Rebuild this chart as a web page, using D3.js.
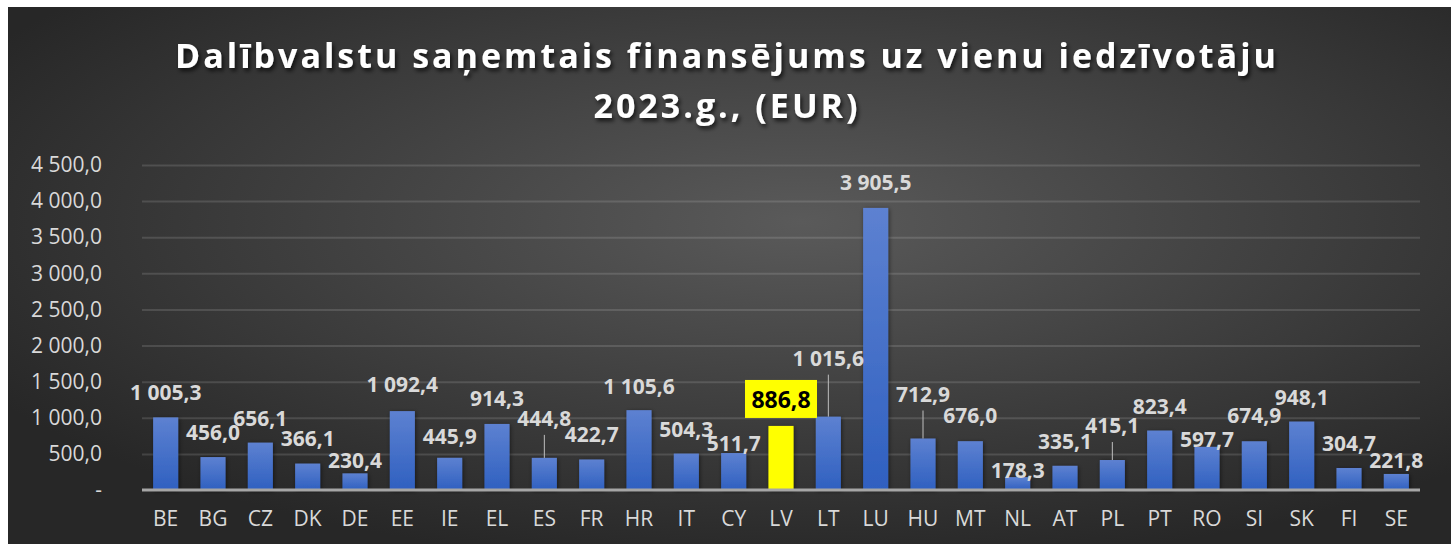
<!DOCTYPE html>
<html>
<head>
<meta charset="utf-8">
<script src="https://cdn.jsdelivr.net/npm/d3@7"></script>
<style>
  body { margin: 0; background: #fff; }
  svg { display: block; }
</style>
</head>
<body>
<svg id="canvas" width="1451" height="544"></svg>
<script>
// countries and values
let countries = ['BE','BG','CZ','DK','DE','EE','IE','EL','ES','FR','HR','IT','CY','LV','LT','LU','HU','MT','NL','AT','PL','PT','RO','SI','SK','FI','SE'];
let values = [1005.3,456.0,656.1,366.1,230.4,1092.4,445.9,914.3,444.8,422.7,1105.6,504.3,511.7,886.8,1015.6,3905.5,712.9,676.0,178.3,335.1,415.1,823.4,597.7,674.9,948.1,304.7,221.8];
let yTicks = [0,500,1000,1500,2000,2500,3000,3500,4000,4500];
let titleLines = ['Dalībvalstu saņemtais finansējums uz vienu iedzīvotāju', '2023.g., (EUR)'];
let highlight = 'LV';

// how far (px) each label sits above its bar, some were dragged by hand in the original
let labelLift = [25,25,25,26,13,27,22,26,40,25,24,25,10,0,59,26,45,26,7,25,35,25,8,26,25,25,14];

let W = 1451, H = 544;
let margin = {left: 142, right: 31, top: 165, bottom: 54};

let canvas = d3.select('#canvas');
let defs = canvas.append('defs');

// background gradient, lighter in the middle
let bg = defs.append('radialGradient')
    .attr('id', 'bg')
    .attr('cx', '55%').attr('cy', '40%').attr('r', '65%');
bg.append('stop').attr('offset', '0%').attr('stop-color', '#5a5a5a');
bg.append('stop').attr('offset', '100%').attr('stop-color', '#272727');

let barGrad = defs.append('linearGradient')
    .attr('id', 'barGrad')
    .attr('x1', 0).attr('y1', 0).attr('x2', 0).attr('y2', 1);
barGrad.append('stop').attr('offset', '0%').attr('stop-color', '#5d81d1');
barGrad.append('stop').attr('offset', '100%').attr('stop-color', '#2f60c0');

let shadow = defs.append('filter').attr('id', 'shadow')
    .attr('x', '-10%').attr('y', '-10%').attr('width', '130%').attr('height', '140%');
shadow.append('feDropShadow')
    .attr('dx', 2).attr('dy', 3).attr('stdDeviation', 2)
    .attr('flood-color', '#000').attr('flood-opacity', 0.7);

let barShadow = defs.append('filter').attr('id', 'barShadow')
    .attr('x', '-30%').attr('y', '-10%').attr('width', '160%').attr('height', '120%');
barShadow.append('feDropShadow')
    .attr('dx', 1).attr('dy', 1).attr('stdDeviation', 2)
    .attr('flood-color', '#000').attr('flood-opacity', 0.5);

canvas.append('rect')
    .attr('x', 8).attr('y', 7)
    .attr('width', W - 8).attr('height', H - 7)
    .attr('fill', 'url(#bg)');

// scales
let x = d3.scaleBand()
    .domain(countries)
    .range([margin.left, W - margin.right])
    .paddingInner(0.47)
    .paddingOuter(0.235);

let y = d3.scaleLinear()
    .domain([0, 4500])
    .range([H - margin.bottom, margin.top]);

let fmt = v => v === 0 ? '-' : d3.format(',.1f')(v).replace(/,/g, ' ').replace('.', ',');

// gridlines + y labels
let yAxis = d3.axisLeft(y)
    .tickValues(yTicks)
    .tickSize(-(W - margin.left - margin.right))
    .tickPadding(40)
    .tickFormat(fmt);

let yg = canvas.append('g')
    .attr('transform', `translate(${margin.left},0)`)
    .call(yAxis);
yg.select('.domain').remove();
yg.selectAll('.tick line')
    .attr('stroke', '#ffffff')
    .attr('stroke-opacity', d => d === 0 ? 0 : 0.13)
    .attr('stroke-width', 2);
yg.selectAll('.tick text')
    .attr('fill', '#d9d9d9')
    .style('font', '21px "Open Sans"');

// bars
canvas.selectAll('rect.bar')
    .data(countries)
    .enter()
    .append('rect')
    .attr('class', 'bar')
    .attr('x', d => x(d))
    .attr('width', x.bandwidth())
    .attr('y', (d, i) => y(values[i]))
    .attr('height', (d, i) => y(0) - y(values[i]))
    .attr('fill', d => d === highlight ? '#ffff00' : 'url(#barGrad)')
    .attr('filter', 'url(#barShadow)');

// baseline
canvas.append('line')
    .attr('x1', margin.left).attr('x2', W - margin.right)
    .attr('y1', y(0)).attr('y2', y(0))
    .attr('stroke', '#a6a6a6')
    .attr('stroke-width', 3);

// x labels
let xAxis = d3.axisBottom(x).tickSize(0).tickPadding(21);
let xg = canvas.append('g')
    .attr('transform', `translate(0,${y(0)})`)
    .call(xAxis);
xg.select('.domain').remove();
xg.selectAll('.tick text')
    .attr('fill', '#d9d9d9')
    .style('font', '21px "Open Sans"');

// leader lines where the label got pulled away from the bar
let leaders = countries.map((c, i) => ({c, i})).filter(d => labelLift[d.i] > 30 && d.c !== highlight);
canvas.selectAll('line.leader')
    .data(leaders)
    .enter()
    .append('line')
    .attr('class', 'leader')
    .attr('x1', d => x(d.c) + x.bandwidth() / 2)
    .attr('x2', d => x(d.c) + x.bandwidth() / 2)
    .attr('y1', d => y(values[d.i]) - labelLift[d.i] + 17)
    .attr('y2', d => y(values[d.i]))
    .attr('stroke', '#bfbfbf')
    .attr('stroke-width', 1);

// data labels
canvas.selectAll('text.value')
    .data(countries.filter(c => c !== highlight))
    .enter()
    .append('text')
    .attr('class', 'value')
    .attr('x', d => x(d) + x.bandwidth() / 2)
    .attr('y', d => y(values[countries.indexOf(d)]) - labelLift[countries.indexOf(d)])
    .attr('text-anchor', 'middle')
    .attr('dominant-baseline', 'central')
    .attr('fill', '#d9d9d9')
    .style('font', 'bold 21px "Open Sans"')
    .text(d => fmt(values[countries.indexOf(d)]));

// highlighted label in a yellow box
let hi = countries.indexOf(highlight);
let hx = x(highlight) + x.bandwidth() / 2;
let hy = y(values[hi]) - 27;
canvas.append('rect')
    .attr('x', hx - 36).attr('y', hy - 19)
    .attr('width', 72).attr('height', 38)
    .attr('fill', '#ffff00');
canvas.append('text')
    .attr('x', hx).attr('y', hy)
    .attr('text-anchor', 'middle')
    .attr('dominant-baseline', 'central')
    .attr('fill', '#000')
    .style('font', 'bold 23px "Open Sans"')
    .text(fmt(values[hi]));

// title
canvas.append('g')
    .attr('filter', 'url(#shadow)')
    .selectAll('text')
    .data(titleLines)
    .enter()
    .append('text')
    .attr('x', 727)
    .attr('y', (d, i) => 68 + i * 50)
    .attr('text-anchor', 'middle')
    .attr('fill', '#ffffff')
    .style('font', 'bold 34px "Open Sans"')
    .style('letter-spacing', '3px')
    .text(d => d);
</script>
</body>
</html>
